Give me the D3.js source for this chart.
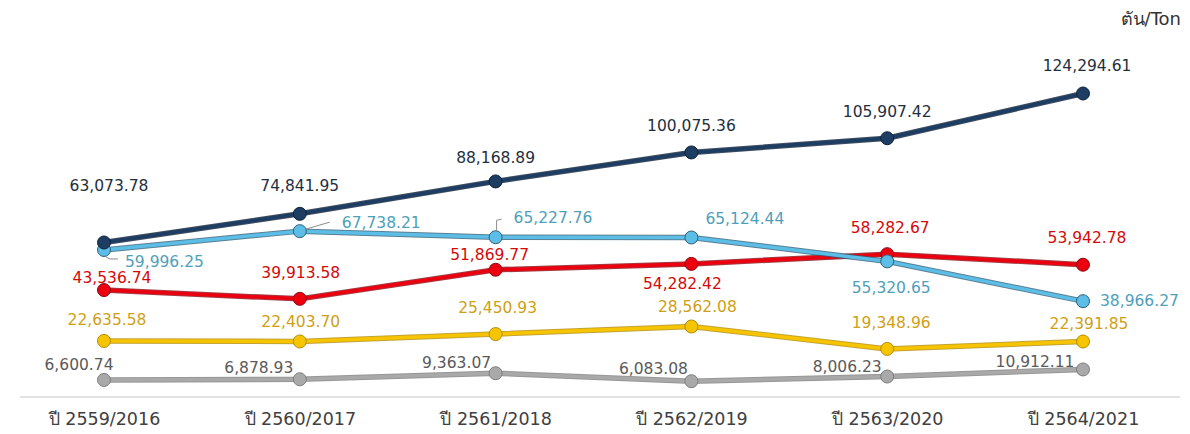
<!DOCTYPE html>
<html>
<head>
<meta charset="utf-8">
<script src="https://cdn.jsdelivr.net/npm/d3@7"></script>
<style>
  html, body { margin: 0; padding: 0; background: #ffffff; }
  svg { display: block; }
</style>
</head>
<body>
<svg id="chart" width="1190" height="434"></svg>
<script>
// ---- data ----
const categories = ["ปี 2559/2016", "ปี 2560/2017", "ปี 2561/2018", "ปี 2562/2019", "ปี 2563/2020", "ปี 2564/2021"];
const seriesNavy   = [63073.78, 74841.95, 88168.89, 100075.36, 105907.42, 124294.61];
const seriesSky    = [59996.25, 67738.21, 65227.76, 65124.44, 55320.65, 38966.27];
const seriesRed    = [43536.74, 39913.58, 51869.77, 54282.42, 58282.67, 53942.78];
const seriesYellow = [22635.58, 22403.70, 25450.93, 28562.08, 19348.96, 22391.85];
const seriesGray   = [6600.74, 6878.93, 9363.07, 6083.08, 8006.23, 10912.11];
const unitLabel = "ตัน/Ton";

// ---- layout / style (kept separate from data) ----
const styles = [
  { values: seriesNavy,   color: "#1d3d63", edge: "#0e2238", text: "#1e2f40" },
  { values: seriesSky,    color: "#5cbde6", edge: "#2f6079", text: "#4f9fba" },
  { values: seriesRed,    color: "#ec0010", edge: "#8a0a10", text: "#d40a0a" },
  { values: seriesYellow, color: "#f7c400", edge: "#b48c00", text: "#cf9f16" },
  { values: seriesGray,   color: "#a9a9a9", edge: "#7d7d7d", text: "#5a5a5a" }
];
// label offsets relative to point: [dx, dy, anchor]
const labelOffsets = [
  [[5,-56,"middle"],[0,-28,"middle"],[0,-23,"middle"],[0,-26,"middle"],[0,-26,"middle"],[4,-27,"middle"]],
  [[21,12,"start"],[42,-8,"start"],[18,-19,"start"],[14,-18,"start"],[4,27,"middle"],[17,0,"start"]],
  [[8,-12,"middle"],[1,-26,"middle"],[-6,-15,"middle"],[-9,20,"middle"],[3,-26,"middle"],[4,-27,"middle"]],
  [[3,-21,"middle"],[1,-19,"middle"],[2,-26,"middle"],[6,-19,"middle"],[4,-26,"middle"],[6,-18,"middle"]],
  [[-25,-15,"middle"],[-41,-11,"middle"],[-39,-10,"middle"],[-38,-12,"middle"],[-40,-10,"middle"],[-48,-7,"middle"]]
];
// leader lines for sky-blue labels: polyline points relative to data point
const leaders = {
  0: [[2,7],[6,9],[14,9]],
  1: [[6,-2],[30,-9]],
  2: [[1,-6],[1,-17],[6,-18]]
};

const svg = d3.select("#chart");
const x = d3.scalePoint().domain(categories).range([104, 1083]);
const y = d3.scaleLinear().domain([0, 130000]).range([396, 79.6]);

// baseline axis
const axis = svg.append("g").attr("transform", "translate(0,397)")
  .call(d3.axisBottom(x).tickSize(0).tickPadding(16));
axis.select(".domain").remove();
svg.append("line").attr("x1", 20).attr("x2", 1180).attr("y1", 397).attr("y2", 397)
  .attr("stroke", "#d9d9d9").attr("stroke-width", 1.5);
axis.selectAll("text")
  .attr("font-family", "'DejaVu Sans', 'Noto Sans', sans-serif")
  .attr("font-size", 17.5).attr("fill", "#404040");

const line = d3.line().x((d, i) => x(categories[i])).y(d => y(d));

// draw lines (bottom series first so upper ones overlay)
const order = [4, 3, 2, 1, 0];
order.forEach(si => {
  const s = styles[si];
  const g = svg.append("g");
  g.append("path").datum(s.values).attr("d", line).attr("fill", "none")
    .attr("stroke", s.edge).attr("stroke-width", 5.5).attr("stroke-linejoin", "round").attr("opacity", 0.8);
  g.append("path").datum(s.values).attr("d", line).attr("fill", "none")
    .attr("stroke", s.color).attr("stroke-width", 3.5).attr("stroke-linejoin", "round");
  g.selectAll("circle").data(s.values).join("circle")
    .attr("cx", (d, i) => x(categories[i])).attr("cy", d => y(d)).attr("r", 6.5)
    .attr("fill", s.color).attr("stroke", s.edge).attr("stroke-width", 1);
});

// leader lines
Object.entries(leaders).forEach(([i, pts]) => {
  const px = x(categories[+i]), py = y(seriesSky[+i]);
  svg.append("polyline")
    .attr("points", pts.map(p => (px + p[0]) + "," + (py + p[1])).join(" "))
    .attr("fill", "none").attr("stroke", "#8c8c8c").attr("stroke-width", 1);
});

// labels
const fmt = d3.format(",.2f");
styles.forEach((s, si) => {
  svg.append("g").selectAll("text").data(s.values).join("text")
    .attr("x", (d, i) => x(categories[i]) + labelOffsets[si][i][0])
    .attr("y", (d, i) => y(d) + labelOffsets[si][i][1])
    .attr("text-anchor", (d, i) => labelOffsets[si][i][2])
    .attr("dominant-baseline", "central")
    .attr("font-family", "'DejaVu Sans', 'Noto Sans', sans-serif")
    .attr("font-size", 15.5)
    .attr("fill", s.text)
    .text(d => fmt(d));
});

// unit label
svg.append("text").attr("x", 1181).attr("y", 18).attr("text-anchor", "end")
  .attr("dominant-baseline", "central")
  .attr("font-family", "'DejaVu Sans', 'Noto Sans', sans-serif")
  .attr("font-size", 18).attr("fill", "#333333").text(unitLabel);
</script>
</body>
</html>
